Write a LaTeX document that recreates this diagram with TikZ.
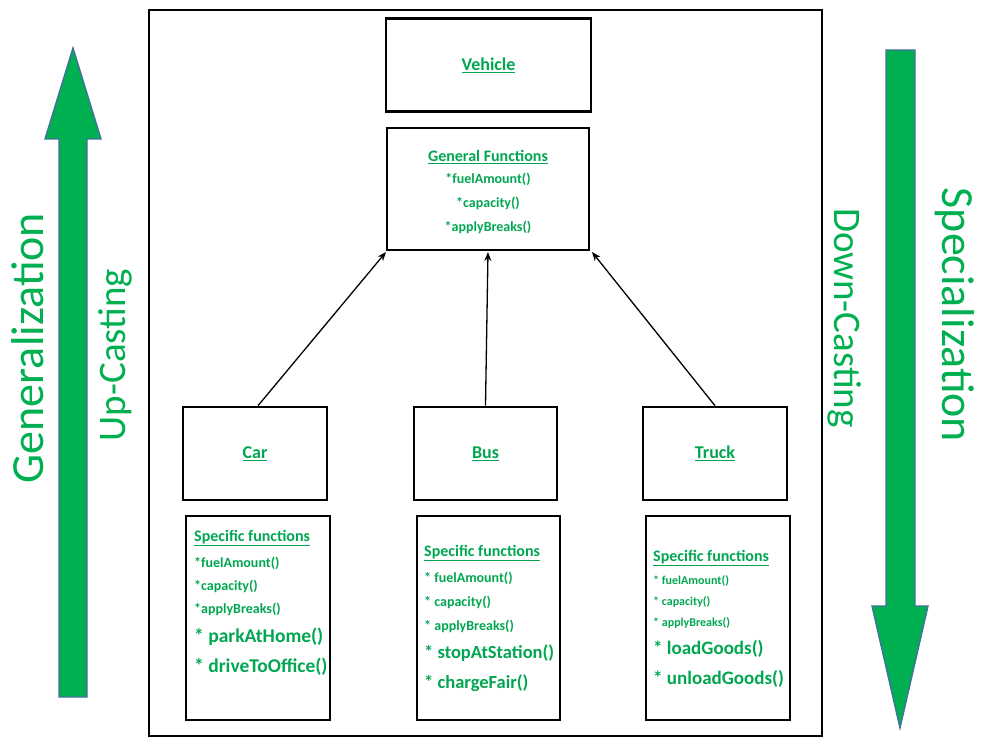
\documentclass[tikz,border=0pt]{standalone}
\usepackage{fontspec}
\setmainfont{Carlito}
\usetikzlibrary{positioning, calc, arrows.meta}
\definecolor{offgreen}{HTML}{00B050}
\definecolor{txtgreen}{HTML}{00A650}
\definecolor{arrowedge}{HTML}{41719C}

\begin{document}
\begin{tikzpicture}[x=1pt, y=-1pt,
  classbox/.style={draw=black, line width=2.6pt, inner sep=0pt},
  label/.style={text=txtgreen, font=\bfseries\fontsize{18}{20}\selectfont},
  funcline/.style={text=txtgreen, anchor=west, inner sep=0pt},
  side/.style={text=offgreen, font=\fontsize{46}{50}\selectfont},
  inherit/.style={line width=1.3pt, -{Stealth[length=9pt, width=7pt]}},
  bigarrow/.style={fill=offgreen, draw=arrowedge, line width=1.4pt, line join=miter}
]
\useasboundingbox (0,0) rectangle (983,754);

% outer frame
\draw[line width=1.2pt] (149,10) rectangle (822,736);

% parent class
\node[classbox, minimum width=205pt, minimum height=93pt] (vehicle) at (488.5,65) {};
\node[label] at (vehicle.center) {\underline{Vehicle}};
\node[classbox, minimum width=202pt, minimum height=122pt] (general) at (488,189) {};
\node[text=txtgreen, font=\bfseries\fontsize{16}{18}\selectfont] (generalhead) at (488,157) {\underline{General Functions}};
\foreach \yy/\txt in {179/*fuelAmount(), 203/*capacity(), 227/*applyBreaks()}
  \node[text=txtgreen, font=\bfseries\fontsize{14}{16}\selectfont] at (488,\yy) {\txt};

% child classes
\node[classbox, minimum width=144pt, minimum height=93pt] (car) at (255,453.5) {};
\node[label] at (car.center) {\underline{Car}};
\node[classbox, minimum width=143pt, minimum height=93pt] (bus) at (485.5,453.5) {};
\node[label] at (bus.center) {\underline{Bus}};
\node[classbox, minimum width=144pt, minimum height=93pt] (truck) at (715,453.5) {};
\node[label] at (truck.center) {\underline{Truck}};

\node[classbox, minimum width=144pt, minimum height=204pt] (carspec) at (258,618) {};
\node[classbox, minimum width=143pt, minimum height=204pt] (busspec) at (488.5,618) {};
\node[classbox, minimum width=144pt, minimum height=204pt] (truckspec) at (718,618) {};

% function lists
\foreach \yy/\fs/\txt in {538/16/\underline{Specific functions}, 563/14/*fuelAmount(),
    586/14/*capacity(), 609/14/*applyBreaks(), 637/19.5/* parkAtHome(), 667/19.5/* driveToOffice()}
  \node[funcline, font=\bfseries\fontsize{\fs}{\fs}\selectfont] at (194,\yy) {\txt};
\foreach \yy/\fs/\txt in {553/16/\underline{Specific functions}, 578/14/* fuelAmount(),
    602/14/* capacity(), 626/14/* applyBreaks(), 653/18.5/* stopAtStation(), 683/18.5/* chargeFair()}
  \node[funcline, font=\bfseries\fontsize{\fs}{\fs}\selectfont] at (424,\yy) {\txt};
\foreach \yy/\fs/\txt in {558/16/\underline{Specific functions}, 581/12/* fuelAmount(),
    602/12/* capacity(), 623/12/* applyBreaks(), 649/19/* loadGoods(), 679/19/* unloadGoods()}
  \node[funcline, font=\bfseries\fontsize{\fs}{\fs}\selectfont] at (653,\yy) {\txt};

% inheritance arrows
\coordinate (tipcar) at (386,252);
\coordinate (tipbus) at (488,252);
\coordinate (tiptruck) at (592,252);
\draw[inherit] (car.north) ++(3,0) -- (tipcar);
\draw[inherit] (bus.north) -- (tipbus);
\draw[inherit] (truck.north) -- (tiptruck);

% generalization / specialization arrows
\draw[bigarrow] (59,697) -- (59,139) -- (45,139) -- (73,48) -- (101,139) -- (87,139) -- (87,697) -- cycle;
\draw[bigarrow] (886,50) -- (915,50) -- (915,606) -- (928,606) -- (900,728) -- (872,606) -- (886,606) -- cycle;

\node[side, rotate=90] (generalization) at (28,348) {Generalization};
\node[side, rotate=90, font=\fontsize{39}{42}\selectfont] (upcasting) at (115,355) {Up-Casting};
\node[side, rotate=-90, font=\fontsize{39}{42}\selectfont] (downcasting) at (845,318) {Down-Casting};
\node[side, rotate=-90] (specialization) at (955,315) {Specialization};
\end{tikzpicture}
\end{document}
